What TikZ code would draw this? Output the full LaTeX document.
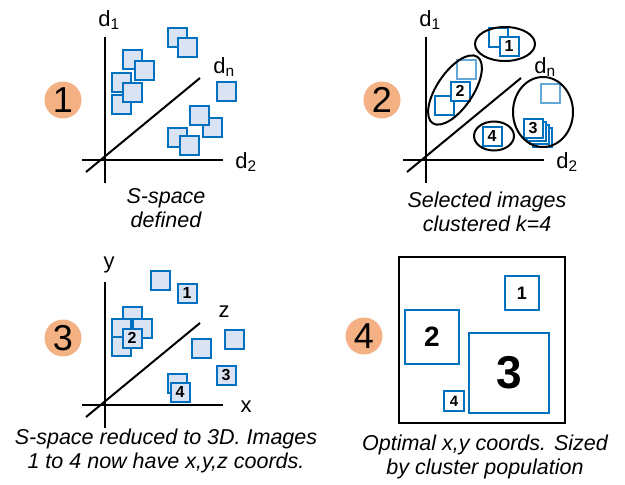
\documentclass[tikz,border=0pt]{standalone}
\usepackage{fontspec}
\setmainfont{Liberation Sans}
\definecolor{imgblue}{HTML}{0070C0}
\definecolor{imgfill}{HTML}{DAE3F3}
\definecolor{stepfill}{HTML}{F4B183}
\begin{document}
\begin{tikzpicture}[x=1pt,y=-1pt,
  img/.style={draw=imgblue,fill=imgfill,line width=2,minimum size=19,inner sep=0,
    font=\bfseries\fontsize{16}{16}\selectfont},
  blank/.style={img,fill=white},
  faded/.style={blank,draw=imgblue!60},
  stepno/.style={circle,fill=stepfill,minimum size=37,inner sep=0,
    font=\fontsize{36}{36}\selectfont},
  axis/.style={line width=2},
  axlbl/.style={font=\fontsize{22}{22}\selectfont},
  caption/.style={align=center,font=\itshape\fontsize{21.5}{24}\selectfont}]
  \useasboundingbox (0,0) rectangle (625,485);
  % axes of panels 1 to 3
  \foreach \p/\dx/\dy/\la/\lb/\lc in {1/0/0/d\textsubscript{1}/d\textsubscript{n}/d\textsubscript{2},
      2/321/0/d\textsubscript{1}/d\textsubscript{n}/d\textsubscript{2}, 3/0/245/y/z/x} {
    \begin{scope}[shift={(\dx,\dy)}]
      \draw[axis] (105,37) -- (105,183);
      \draw[axis] (82,160) -- (223,160);
      \draw[axis] (86,172) -- (200,78);
      \node[axlbl] (ax\p-v) at (109,20) {\la};
      \node[axlbl] (ax\p-d) at (224,67) {\lb};
      \node[axlbl] (ax\p-h) at (246,162) {\lc};
    \end{scope}
  }
  \node[stepno] (n1) at (63,100) {1};
  \node[stepno] (n2) at (382,100) {2};
  \node[stepno] (n3) at (63,338) {3};
  \node[stepno] (n4) at (364,336) {4};

  % 1: images in S-space
  \foreach \x/\y [count=\i] in {177/37, 187/47, 132/59, 144/70, 121/82, 121/104, 132/92,
      226/91, 212/127, 199/115, 177/137, 189/145}
    \node[img] (s1-\i) at (\x,\y) {};
  \node[caption] (cap1) at (166,208) {S-space\\defined};

  % 2: clusters
  \node[blank] (s2-a) at (498,37) {};
  \node[blank] (c1) at (509,46) {1};
  \node[faded] (s2-b) at (466,69) {};
  \node[blank] (s2-c) at (444,105) {};
  \node[blank] (c2) at (460,91) {2};
  \node[faded] (s2-d) at (550,93) {};
  \foreach \k in {9,6,3}
    \node[blank] (s2-s\k) at (533+\k,128+\k) {};
  \node[blank] (c3) at (533,128) {3};
  \node[blank] (c4) at (492,136) {4};
  \draw[axis] (505,44) ellipse [x radius=30, y radius=17];
  \draw[axis, rotate around={56:(455,90)}] (455,90) ellipse [x radius=40, y radius=18];
  \draw[axis] (543,112) ellipse [x radius=30, y radius=35];
  \draw[axis] (494,136) ellipse [x radius=20, y radius=14.5];
  \node[caption] (cap2) at (487,212) {Selected images\\clustered k=4};

  % 3: reduced to 3D
  \foreach \x/\y [count=\i] in {160/280, 132/316, 121/328, 142/328, 121/346, 201/348,
      234/339, 177/383}
    \node[img] (s3-\i) at (\x,\y) {};
  \node[img] (r1) at (187,293) {1};
  \node[img] (r2) at (132,338) {2};
  \node[img] (r3) at (226,375) {3};
  \node[img] (r4) at (180,392) {4};
  \node[caption] (cap3) at (166,451) {S-space reduced to 3D. Images\\1 to 4 now have x,y,z coords.};

  % 4: layout
  \draw[line width=2.5] (399,257) rectangle (565,423);
  \node[blank, minimum size=34, font=\bfseries\fontsize{18}{18}\selectfont] (m1) at (522,293) {1};
  \node[blank, minimum size=54, font=\bfseries\fontsize{28}{28}\selectfont] (m2) at (432,337) {2};
  \node[blank, minimum size=80, font=\bfseries\fontsize{46}{46}\selectfont] (m3) at (509,373) {3};
  \node[blank, minimum size=20, font=\bfseries\fontsize{15}{15}\selectfont] (m4) at (454,401) {4};
  \node[caption] (cap4) at (485,457) {Optimal x,y coords. Sized\\by cluster population};
\end{tikzpicture}
\end{document}
